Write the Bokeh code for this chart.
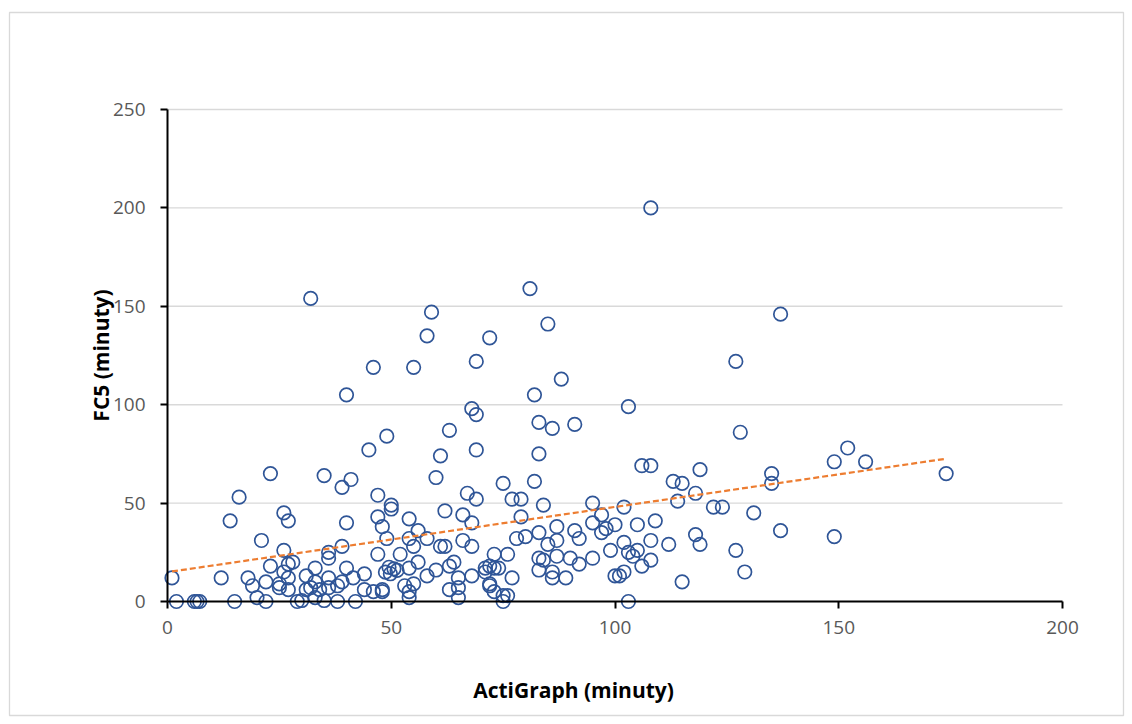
import numpy as np
from bokeh.plotting import figure
from bokeh.models import Range1d, Label
from bokeh.embed import file_html
from bokeh.resources import INLINE

# --- data ---
actigraph = [108, 32, 81, 59, 137, 85, 58, 72, 46, 55,
             69, 127, 88, 40, 82, 103, 68, 69, 83, 91,
             86, 63, 128, 49, 152, 45, 69, 83, 61, 149,
             156, 106, 108, 119, 23, 35, 135, 174, 60, 41,
             82, 113, 75, 115, 135, 39, 118, 67, 47, 16,
             69, 77, 79, 114, 95, 84, 50, 50, 102, 122,
             124, 62, 26, 131, 97, 66, 47, 79, 54, 14,
             27, 109, 40, 68, 95, 100, 105, 48, 87, 98,
             56, 91, 97, 137, 83, 118, 149, 54, 49, 58,
             66, 78, 80, 92, 87, 108, 102, 21, 85, 119,
             112, 55, 61, 62, 68, 39, 26, 99, 105, 127,
             103, 36, 52, 47, 73, 76, 104, 36, 87, 83,
             90, 95, 108, 84, 28, 56, 64, 92, 23, 27,
             63, 72, 106, 33, 40, 71, 73, 74, 54, 49.5,
             50.6, 51.3, 48.7, 49.8, 60, 86, 83, 102, 26, 71,
             129, 44, 100, 101, 31, 58, 68, 65, 1, 12,
             18, 27, 36, 77, 86, 89, 115, 22, 33, 39,
             55, 72, 72, 25, 19, 53, 36, 32, 25, 65,
             38, 27, 31, 44, 48, 34, 63, 48, 46, 54,
             73, 75, 76, 65, 54, 20, 33, 30, 35, 2,
             6, 6.6, 7.2, 15, 22, 29, 38, 42, 75, 103,
             41.5]
fc5 = [200, 154, 159, 147, 146, 141, 135, 134, 119, 119,
       122, 122, 113, 105, 105, 99, 98, 95, 91, 90,
       88, 87, 86, 84, 78, 77, 77, 75, 74, 71,
       71, 69, 69, 67, 65, 64, 65, 65, 63, 62,
       61, 61, 60, 60, 60, 58, 55, 55, 54, 53,
       52, 52, 52, 51, 50, 49, 49, 47, 48, 48,
       48, 46, 45, 45, 44, 44, 43, 43, 42, 41,
       41, 41, 40, 40, 40, 39, 39, 38, 38, 37,
       36, 36, 35, 36, 35, 34, 33, 32, 32, 32,
       31, 32, 33, 32, 31, 31, 30, 31, 29, 29,
       29, 28, 28, 28, 28, 28, 26, 26, 26, 26,
       25, 25, 24, 24, 24, 24, 23, 22, 23, 22,
       22, 22, 21, 21, 20, 20, 20, 19, 18, 19,
       18, 18, 18, 17, 17, 17, 17, 17, 17, 17.4,
       16.6, 15.8, 14.9, 14.1, 16, 15, 16, 15, 15, 15,
       15, 14, 13, 13, 13, 13, 13, 12, 12, 12,
       12, 12, 12, 12, 12, 12, 10, 10, 10, 10,
       9, 9, 8, 9, 8, 8, 7, 7, 7, 7,
       8, 6, 6, 6, 6, 6, 6, 5, 5, 5,
       5, 3, 3, 2, 2, 2, 2, 0.5, 0.5, 0,
       0, 0, 0, 0, 0, 0, 0, 0, 0, 0,
       12]
x_ticks = [0, 50, 100, 150, 200]
y_ticks = [0, 50, 100, 150, 200, 250]
x_title = "ActiGraph (minuty)"
y_title = "FC5 (minuty)"

# --- layout (pixels) ---
W, H = 1132, 724
box_l, box_r, box_t, box_b = 9, 1123, 12, 715     # chart-area border
px_per_x = (1062 - 167) / (x_ticks[-1] - x_ticks[0])
px_per_y = (601 - 109) / (y_ticks[-1] - y_ticks[0])
x0_px, y0_px = 167, 601                           # screen position of the origin


def dx(px):
    return (px - x0_px) / px_per_x


def dy(py):
    return (y0_px - py) / px_per_y


p = figure(width=W, height=H, output_backend="svg", toolbar_location=None, title=None,
           x_range=Range1d(dx(box_l), dx(box_r)), y_range=Range1d(dy(box_b), dy(box_t)),
           min_border_left=box_l, min_border_right=W - box_r,
           min_border_top=box_t, min_border_bottom=H - box_b)
p.outline_line_color = "#D9D9D9"
p.outline_line_width = 1.3
p.background_fill_color = "white"
p.border_fill_color = "white"
p.xgrid.visible = False
p.ygrid.visible = False

# horizontal gridlines over the plotting area only
gy = y_ticks[1:]
p.segment(x0=[x_ticks[0]] * len(gy), x1=[x_ticks[-1]] * len(gy), y0=gy, y1=gy,
          line_color="#D9D9D9", line_width=1.4)

for ax, ticks in ((p.xaxis[0], x_ticks), (p.yaxis[0], y_ticks)):
    ax.ticker = ticks
    ax.fixed_location = 0
    ax.bounds = (ticks[0], ticks[-1])
    ax.axis_line_color = "black"
    ax.axis_line_width = 2
    ax.major_tick_line_color = "black"
    ax.major_tick_line_width = 2
    ax.major_tick_out = 7
    ax.major_tick_in = 0
    ax.minor_tick_line_color = None
    ax.major_label_text_font = "Open Sans"
    ax.major_label_text_font_size = "19px"
    ax.major_label_text_color = "#595959"
p.xaxis.major_label_standoff = 12
p.yaxis.major_label_standoff = 15

p.scatter(actigraph, fc5, marker="circle", size=13.5, fill_color=None,
          line_color="#2F5597", line_width=1.7)

xa = np.array(actigraph, dtype=float)
ya = np.array(fc5, dtype=float)
slope, intercept = np.polyfit(xa, ya, 1)
tx = [xa.min(), xa.max()]
ty = [intercept + slope * v for v in tx]
p.line(tx, ty, line_color="#ED7D31", line_width=2.2, line_dash="6 3")

p.add_layout(Label(x=dx(573), y=dy(689), text=x_title, text_font="Open Sans",
                   text_font_style="bold", text_font_size="21px", text_color="black",
                   text_align="center", text_baseline="middle"))
p.add_layout(Label(x=dx(100), y=dy(355), text=y_title, text_font="Open Sans",
                   text_font_style="bold", text_font_size="21px", text_color="black",
                   text_align="center", text_baseline="middle", angle=np.pi / 2))

open("out.html", "w").write(file_html(p, INLINE))
